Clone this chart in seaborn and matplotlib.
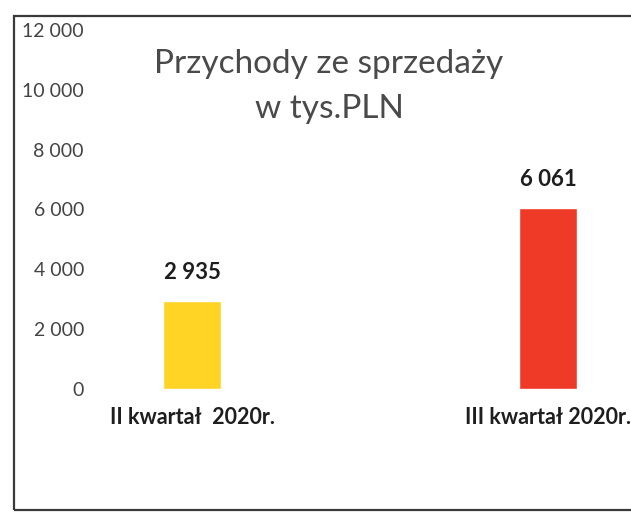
import matplotlib
matplotlib.use("Agg")
import matplotlib.pyplot as plt
import seaborn as sns
import pandas as pd
from matplotlib.patches import Rectangle

# data
categories = ["II kwartał  2020r.", "III kwartał 2020r."]
values = [2935, 6061]
value_labels = ["2 935", "6 061"]
bar_colors = ["#FFD424", "#EE3A26"]
y_ticks = [0, 2000, 4000, 6000, 8000, 10000, 12000]
y_tick_labels = ["0", "2 000", "4 000", "6 000", "8 000", "10 000", "12 000"]
title_lines = ["Przychody ze sprzedaży", "w tys.PLN"]

sns.set_theme(style="white")
plt.rcParams["font.family"] = ["Lato", "DejaVu Sans"]

W, H = 631, 513
fig = plt.figure(figsize=(W / 100, H / 100), dpi=100)
fig.patch.set_facecolor("white")

# axes placed so that 0 sits at y=389 px and 12000 at y=30 px
ax = fig.add_axes([95 / W, (H - 389) / H, (W - 95) / W, (389 - 30) / H])

df = pd.DataFrame({"kwartal": categories, "wartosc": values})
sns.barplot(data=df, x="kwartal", y="wartosc", hue="kwartal",
            palette=bar_colors, width=0.165, legend=False, ax=ax,
            saturation=1)

ax.set_xlim(-0.2725, 1.233)
ax.set_ylim(0, 12000)
ax.set_yticks(y_ticks)
ax.set_yticklabels(y_tick_labels, fontsize=14, color="#444444")
ax.tick_params(axis="y", length=0, pad=8)
ax.tick_params(axis="x", length=0, pad=13)
for lbl in ax.get_xticklabels():
    lbl.set_fontsize(15.5)
    lbl.set_fontweight("bold")
    lbl.set_color("#1e1e1e")
ax.set_xlabel("")
ax.set_ylabel("")
for s in ax.spines.values():
    s.set_visible(False)
ax.set_facecolor("none")

for i, (v, t) in enumerate(zip(values, value_labels)):
    ax.annotate(t, (i, v), xytext=(0, 13), textcoords="offset points",
                ha="center", va="bottom", fontsize=16, fontweight="bold",
                color="#1e1e1e")

fig.text(329 / W, 1 - 64 / H, title_lines[0], ha="center", va="center",
         fontsize=24, color="#4a4a4a")
fig.text(329 / W, 1 - 109 / H, title_lines[1], ha="center", va="center",
         fontsize=24, color="#4a4a4a")

# outer chart frame (right edge cut off in the scan)
fig.patches.append(Rectangle((14 / W, 3 / H), 1.0, 494 / H,
                             transform=fig.transFigure, fill=False,
                             edgecolor="#3a3a3a", linewidth=1.6))

fig.savefig("out.png", dpi=100)
